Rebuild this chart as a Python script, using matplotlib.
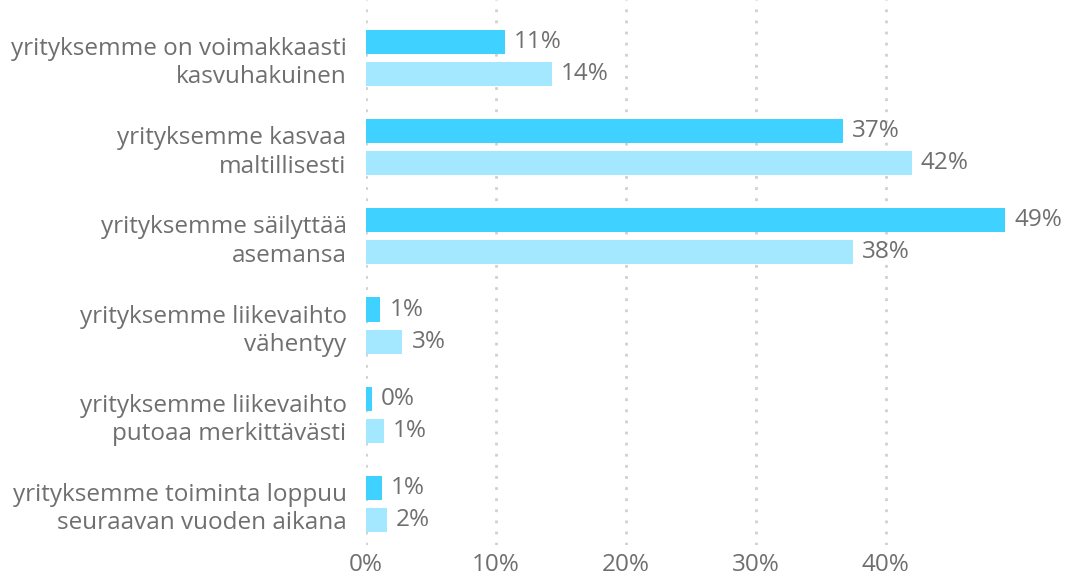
import matplotlib.pyplot as plt
import numpy as np

plt.rcParams['font.family'] = ['Open Sans', 'DejaVu Sans']

categories = [
    "yrityksemme on voimakkaasti\nkasvuhakuinen",
    "yrityksemme kasvaa\nmaltillisesti",
    "yrityksemme säilyttää\nasemansa",
    "yrityksemme liikevaihto\nvähentyy",
    "yrityksemme liikevaihto\nputoaa merkittävästi",
    "yrityksemme toiminta loppuu\nseuraavan vuoden aikana",
]
series_a = [10.7, 36.7, 49.2, 1.1, 0.45, 1.2]
series_b = [14.3, 42.0, 37.5, 2.8, 1.4, 1.6]
labels_a = ["11%", "37%", "49%", "1%", "0%", "1%"]
labels_b = ["14%", "42%", "38%", "3%", "1%", "2%"]
xticks = [0, 10, 20, 30, 40]

color_a = '#3fd1ff'
color_b = '#a3e8ff'
text_color = '#6f6f6f'
fs = 17.5

fig = plt.figure(figsize=(10.67, 5.77), dpi=100)
ax = fig.add_axes([0.343, 0.0555, 0.609, 0.9445])

y = np.arange(len(categories))
off = 0.18
h = 0.27
ax.barh(y - off, series_a, height=h, color=color_a, zorder=3)
ax.barh(y + off, series_b, height=h, color=color_b, zorder=3)

for yi, v, lab in zip(y, series_a, labels_a):
    ax.text(v + 0.7, yi - off, lab, va='center', ha='left', fontsize=fs, color=text_color)
for yi, v, lab in zip(y, series_b, labels_b):
    ax.text(v + 0.7, yi + off, lab, va='center', ha='left', fontsize=fs, color=text_color)

ax.set_xlim(0, 50)
ax.set_ylim(5.46, -0.65)
ax.set_yticks(y)
ax.set_yticklabels(categories, fontsize=fs, color=text_color, linespacing=1.25)
ax.set_xticks(xticks)
ax.set_xticklabels([f"{t}%" for t in xticks], fontsize=fs, color=text_color)
ax.tick_params(length=0, pad=6)
ax.tick_params(axis='y', pad=14)

for t in xticks:
    ax.axvline(t, color='#d0d0d0', linestyle=(0, (1, 3)), linewidth=2, zorder=1)

for s in ax.spines.values():
    s.set_visible(False)

fig.savefig('out.png', dpi=100)
